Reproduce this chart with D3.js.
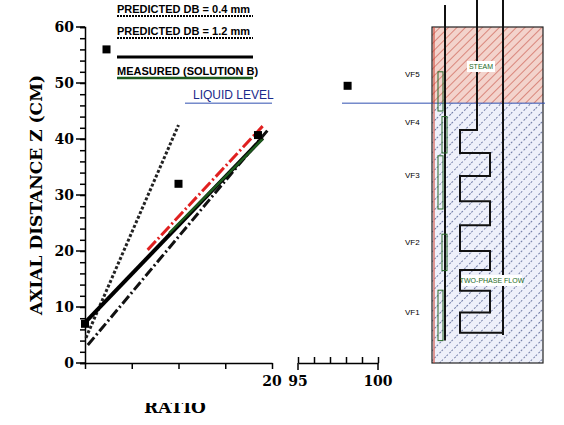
<!DOCTYPE html>
<html><head><meta charset="utf-8">
<script src="https://cdn.jsdelivr.net/npm/d3@7"></script>
<style>body{margin:0;background:#fff}text{font-family:"DejaVu Serif",serif}text.sans{font-family:"Liberation Sans Narrow","Liberation Sans",sans-serif}</style>
</head><body><div id="chart"></div>
<script>
// data (x = ratio, y = axial distance cm)
const pred04 = [[0.1, 4.5], [10, 42.5]];
const pred12 = [[0.3, 3.2], [19.5, 41.5]];
const predRed = [[6.7, 20.2], [19, 42.3]];
const measured = [[0, 7.2], [19, 40.2]];
const measuredGreen = [[9, 23.2], [19, 40]];
const points = [[0, 7], [2.3, 56], [10, 32], [18.5, 40.7]];
const pointsRight = [[98.1, 49.5]];
const liquidLevel = 46.4;
const yTicks = [0, 10, 20, 30, 40, 50, 60];
const vfLabels = [["VF5", 51], ["VF4", 42.5], ["VF3", 33], ["VF2", 21], ["VF1", 8.5]];
const coilY = [41.6, 37.5, 33.4, 28.9, 24.6, 20, 16.6, 12.9, 9, 5.4];

const svg = d3.select("#chart").append("svg").attr("width", 564).attr("height", 425);
const y = d3.scaleLinear().domain([0, 60]).range([363, 27]);
const x = d3.scaleLinear().domain([0, 20]).range([85, 272]);
const x2 = d3.scaleLinear().domain([95, 100]).range([298, 378]);

// axes
svg.append("g").attr("transform", "translate(85,0)")
  .call(d3.axisLeft(y).tickValues(d3.range(0, 61, 2)).tickSize(5).tickFormat(""))
  .call(g => g.selectAll("path,line").attr("stroke", "#000").attr("stroke-width", 1.5));
svg.selectAll(".yl").data(yTicks).enter().append("text")
  .attr("x", 74).attr("y", d => y(d) + 5).attr("text-anchor", "end")
  .attr("font-size", 14).attr("font-weight", "bold").text(d => d);
svg.selectAll(".ym").data(yTicks).enter().append("line")
  .attr("x1", 76).attr("x2", 85).attr("y1", d => y(d)).attr("y2", d => y(d)).attr("stroke", "#000").attr("stroke-width", 1.5);
svg.append("text").attr("transform", "translate(42,195) rotate(-90)").attr("text-anchor", "middle")
  .attr("font-size", 17).attr("font-weight", "bold").text("AXIAL DISTANCE Z (CM)");

svg.append("g").attr("transform", "translate(0,363)")
  .call(d3.axisBottom(x).tickValues([0, 5, 10, 15, 20]).tickSize(6).tickSizeOuter(0).tickFormat(""))
  .call(g => g.selectAll("path,line").attr("stroke", "#000").attr("stroke-width", 1.5));
svg.append("g").attr("transform", "translate(0,363)")
  .call(d3.axisTop(x2).ticks(5).tickSize(-6).tickSizeOuter(0).tickFormat(""))
  .call(g => g.selectAll("line").attr("transform", "translate(0,-6)"))
  .call(g => g.selectAll("path,line").attr("stroke", "#000").attr("stroke-width", 1.5));
svg.append("line").attr("x1", x2(95)).attr("x2", x2(95)).attr("y1", 363).attr("y2", 370).attr("stroke", "#000").attr("stroke-width", 1.5);
svg.append("line").attr("x1", x2(100)).attr("x2", x2(100)).attr("y1", 363).attr("y2", 370).attr("stroke", "#000").attr("stroke-width", 1.5);
[[x(20), "20"], [x2(95), "95"], [x2(100), "100"]].forEach(([px, t]) =>
  svg.append("text").attr("x", px).attr("y", 386).attr("text-anchor", "middle").attr("font-size", 14).attr("font-weight", "bold").text(t));
svg.append("defs").append("clipPath").attr("id", "cut").append("rect").attr("x", 100).attr("y", 403).attr("width", 200).attr("height", 30);
svg.append("text").attr("clip-path", "url(#cut)").attr("x", 175).attr("y", 413).attr("text-anchor", "middle")
  .attr("font-size", 17).attr("font-weight", "bold").text("RATIO");

// lines
const line = d3.line().x(d => x(d[0])).y(d => y(d[1]));
svg.append("path").datum(pred04).attr("d", line).attr("stroke", "#222").attr("stroke-width", 3).attr("stroke-dasharray", "3,2").attr("fill", "none");
svg.append("path").datum(pred12).attr("d", line).attr("stroke", "#111").attr("stroke-width", 3).attr("stroke-dasharray", "10,3,2,3").attr("fill", "none");
svg.append("path").datum(predRed).attr("d", line).attr("stroke", "#e02020").attr("stroke-width", 3).attr("stroke-dasharray", "12,3,2,3").attr("fill", "none");
svg.append("path").datum(measured).attr("d", line).attr("stroke", "#000").attr("stroke-width", 4).attr("fill", "none");
svg.append("path").datum(measuredGreen).attr("d", line).attr("stroke", "#1d5a1d").attr("stroke-width", 2.5).attr("fill", "none");

// points
svg.selectAll(".pt").data(points).enter().append("rect")
  .attr("x", d => x(d[0]) - 4).attr("y", d => y(d[1]) - 4).attr("width", 8).attr("height", 8).attr("fill", "#000");
svg.selectAll(".pt2").data(pointsRight).enter().append("rect")
  .attr("x", d => x2(d[0]) - 4).attr("y", d => y(d[1]) - 4).attr("width", 8).attr("height", 8).attr("fill", "#000");

// legend
const lg = svg.append("g");
const lgText = (px, py, t) => lg.append("text").attr("class", "sans").attr("x", px).attr("y", py)
  .attr("font-size", 11).attr("font-weight", "bold").text(t);
lgText(117, 13, "PREDICTED DB = 0.4 mm");
lg.append("line").attr("x1", 117).attr("x2", 253).attr("y1", 16).attr("y2", 16).attr("stroke", "#000").attr("stroke-width", 2).attr("stroke-dasharray", "2,1");
lgText(117, 35, "PREDICTED DB = 1.2 mm");
lg.append("line").attr("x1", 117).attr("x2", 253).attr("y1", 38).attr("y2", 38).attr("stroke", "#000").attr("stroke-width", 2).attr("stroke-dasharray", "2,1");
lg.append("line").attr("x1", 117).attr("x2", 253).attr("y1", 57).attr("y2", 57).attr("stroke", "#000").attr("stroke-width", 3);
lgText(117, 75, "MEASURED (SOLUTION B)");
lg.append("line").attr("x1", 117).attr("x2", 253).attr("y1", 78).attr("y2", 78).attr("stroke", "#1d5a1d").attr("stroke-width", 2.5);
svg.append("text").attr("class", "sans").attr("x", 193).attr("y", 99).attr("font-size", 12).attr("fill", "#1a2a8a").text("LIQUID LEVEL");
svg.append("line").attr("x1", 185).attr("x2", 272).attr("y1", y(liquidLevel)).attr("y2", y(liquidLevel)).attr("stroke", "#3050b0");

// test section diagram
const dx0 = 432, dx1 = 543;
const defs = svg.select("defs");
const h1 = defs.append("pattern").attr("id", "hatchR").attr("width", 6).attr("height", 6).attr("patternUnits", "userSpaceOnUse").attr("patternTransform", "rotate(45)");
h1.append("rect").attr("width", 6).attr("height", 6).attr("fill", "#f3d3cc");
h1.append("line").attr("x1", 0).attr("x2", 0).attr("y1", 0).attr("y2", 6).attr("stroke", "#c0392b").attr("stroke-width", 1);
const h2 = defs.append("pattern").attr("id", "hatchB").attr("width", 7).attr("height", 7).attr("patternUnits", "userSpaceOnUse").attr("patternTransform", "rotate(45)");
h2.append("rect").attr("width", 7).attr("height", 7).attr("fill", "#eef0fa");
h2.append("line").attr("x1", 0).attr("x2", 0).attr("y1", 0).attr("y2", 7).attr("stroke", "#203070").attr("stroke-width", 1.2).attr("stroke-dasharray", "2,2");
svg.append("rect").attr("x", dx0).attr("y", y(60)).attr("width", dx1 - dx0).attr("height", y(liquidLevel) - y(60)).attr("fill", "url(#hatchR)");
svg.append("rect").attr("x", dx0).attr("y", y(liquidLevel)).attr("width", dx1 - dx0).attr("height", y(0) - y(liquidLevel)).attr("fill", "url(#hatchB)");
svg.append("rect").attr("x", dx0).attr("y", y(60)).attr("width", dx1 - dx0).attr("height", y(0) - y(60)).attr("fill", "none").attr("stroke", "#222").attr("stroke-width", 1.2);
svg.append("line").attr("x1", 342).attr("x2", 545).attr("y1", y(liquidLevel)).attr("y2", y(liquidLevel)).attr("stroke", "#3050b0");
svg.append("line").attr("x1", dx0 + 2).attr("x2", dx0 + 2).attr("y1", y(60)).attr("y2", y(0)).attr("stroke", "#d04030").attr("stroke-width", 1);
svg.append("line").attr("x1", 445).attr("x2", 445).attr("y1", 5).attr("y2", y(4)).attr("stroke", "#111").attr("stroke-width", 2);
svg.append("line").attr("x1", 503).attr("x2", 503).attr("y1", 0).attr("y2", y(5)).attr("stroke", "#111").attr("stroke-width", 2);
const coil = [[477, 0], [477, y(coilY[0])]];
coilY.forEach((v, i) => {
  const side = i % 2 === 0 ? 460 : 490;
  coil.push([coil[coil.length - 1][0], y(v)]);
  coil.push([side, y(v)]);
});
coil.push([coil[coil.length - 1][0], y(coilY[coilY.length - 1])]);
coil.push([503, y(coilY[coilY.length - 1])]);
svg.append("path").datum(coil).attr("d", d3.line()).attr("fill", "none").attr("stroke", "#111").attr("stroke-width", 2);
// sensor boxes
[[52, 45], [44, 37.5], [37, 27.5], [23, 16.5], [13, 4]].forEach(([a, b], i) =>
  svg.append("rect").attr("x", i % 2 ? 442 : 438).attr("y", y(a)).attr("width", 5).attr("height", y(b) - y(a))
    .attr("fill", "none").attr("stroke", "#2a6a2a").attr("stroke-width", 1));
svg.selectAll(".vf").data(vfLabels).enter().append("text").attr("class", "sans").attr("x", 405).attr("y", d => y(d[1]))
  .attr("font-size", 8).text(d => d[0]);
svg.append("rect").attr("x", 467).attr("y", 61).attr("width", 28).attr("height", 11).attr("fill", "#fff");
svg.append("text").attr("class", "sans").attr("x", 481).attr("y", 69).attr("text-anchor", "middle").attr("font-size", 7).attr("fill", "#1d6a1d").text("STEAM");
svg.append("rect").attr("x", 462).attr("y", 275).attr("width", 60).attr("height", 11).attr("fill", "#fff");
svg.append("text").attr("class", "sans").attr("x", 492).attr("y", 283).attr("text-anchor", "middle").attr("font-size", 7).attr("fill", "#1d6a1d").text("TWO-PHASE FLOW");
</script></body></html>
